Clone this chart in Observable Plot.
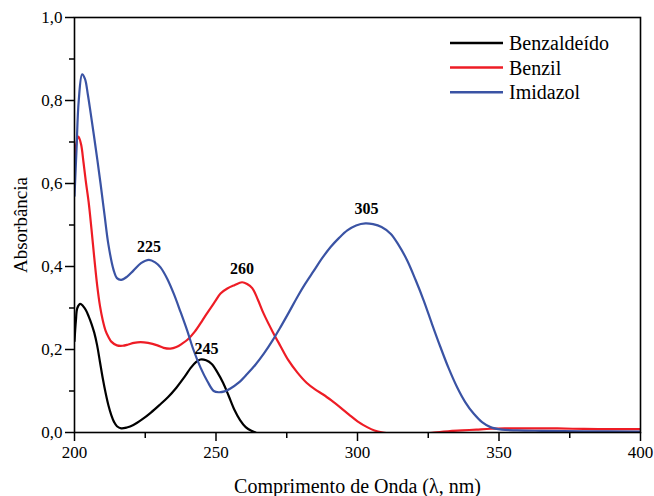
<!DOCTYPE html>
<html>
<head>
<meta charset="utf-8">
<script src="https://cdn.jsdelivr.net/npm/d3@7"></script>
<script src="https://cdn.jsdelivr.net/npm/@observablehq/plot@0.6"></script>
<style>
  html, body { margin: 0; padding: 0; background: #fff; }
</style>
</head>
<body>
<div id="chart"></div>
<script>
// ---- Data ----
const seriesNames = ["Benzaldeído", "Benzil", "Imidazol"];
const seriesColors = ["#000000", "#ee1c25", "#3a53a4"];

const benzaldeidoX = [200, 200.5, 201, 202, 203, 204, 205, 206, 207, 208, 209, 210, 211, 212, 213, 214, 215, 216.5, 218.5, 220.8, 224, 227, 230, 233, 236, 239, 241, 243, 244.5, 246.5, 248.5, 250.5, 252.5, 254.5, 256.5, 258.5, 260.5, 262.5, 264];
const benzaldeidoY = [0.22, 0.27, 0.30, 0.31, 0.305, 0.295, 0.28, 0.262, 0.24, 0.21, 0.17, 0.13, 0.095, 0.065, 0.042, 0.025, 0.015, 0.01, 0.012, 0.018, 0.032, 0.048, 0.066, 0.085, 0.108, 0.135, 0.155, 0.17, 0.176, 0.174, 0.165, 0.145, 0.12, 0.088, 0.055, 0.03, 0.013, 0.004, 0.0];

const benzilX = [200, 200.5, 201.4, 202.3, 203.2, 204, 205, 206, 207, 208, 209, 210, 211, 212, 213, 215, 217, 219, 221, 223.3, 226, 229.3, 231.5, 233.9, 236, 238, 240, 242.5, 245, 247, 249.5, 251.6, 254, 256.5, 259.2, 261, 262.8, 264.8, 266.8, 270, 272.8, 275.5, 278.7, 282, 285, 288, 291, 294, 297, 300, 303.4, 306, 309, 313, 318, 323, 327, 332, 337, 342, 347, 352, 360, 368, 376, 385, 392, 400];
const benzilY = [0.64, 0.69, 0.713, 0.695, 0.65, 0.605, 0.555, 0.49, 0.42, 0.355, 0.305, 0.27, 0.245, 0.23, 0.219, 0.21, 0.209, 0.212, 0.216, 0.218, 0.216, 0.21, 0.204, 0.202, 0.206, 0.214, 0.224, 0.243, 0.268, 0.289, 0.314, 0.335, 0.347, 0.355, 0.362, 0.358, 0.348, 0.32, 0.287, 0.243, 0.208, 0.175, 0.145, 0.12, 0.104, 0.091, 0.076, 0.06, 0.043, 0.027, 0.013, 0.005, 0.0, -0.004, -0.006, -0.004, 0.0, 0.003, 0.005, 0.007, 0.009, 0.01, 0.01, 0.01, 0.009, 0.008, 0.008, 0.008];

const imidazolX = [200, 200.7, 201.5, 202.7, 203.7, 204.7, 205.7, 207.5, 209.2, 210.6, 212, 213.8, 215, 216.5, 218.5, 220.8, 223.5, 226.3, 228.5, 230.4, 232.8, 235.1, 237.5, 239.8, 242, 244.5, 247, 249.2, 251, 253, 255.1, 258, 261, 264, 266.9, 270, 272.8, 275.8, 278.7, 281.5, 284.6, 287.5, 290.5, 293.5, 296.4, 299.5, 302.8, 305.5, 308.5, 311.7, 314.5, 317.6, 320.5, 323.4, 326.3, 329.3, 332.2, 335.2, 338, 341.1, 344, 347, 351, 356.4, 365, 380, 400];
const imidazolY = [0.57, 0.68, 0.80, 0.863, 0.852, 0.815, 0.77, 0.685, 0.60, 0.525, 0.452, 0.392, 0.372, 0.368, 0.375, 0.39, 0.408, 0.416, 0.41, 0.398, 0.37, 0.334, 0.29, 0.246, 0.2, 0.157, 0.123, 0.10, 0.097, 0.099, 0.106, 0.12, 0.141, 0.164, 0.19, 0.222, 0.254, 0.29, 0.326, 0.358, 0.39, 0.42, 0.447, 0.469, 0.487, 0.499, 0.504, 0.502, 0.495, 0.479, 0.452, 0.414, 0.368, 0.318, 0.262, 0.206, 0.155, 0.109, 0.074, 0.045, 0.025, 0.013, 0.007, 0.005, 0.004, 0.003, 0.002];

const peakLabels = ["225", "260", "245", "305"];
const peakX = [226.3, 259.2, 244.5, 302.8];
const peakY = [0.416, 0.362, 0.176, 0.504];

const xTicks = [200, 250, 300, 350, 400];
const xMinorTicks = [225, 275, 325, 375];
const yTicks = [0, 0.2, 0.4, 0.6, 0.8, 1.0];
const yMinorTicks = [0.1, 0.3, 0.5, 0.7, 0.9];

const xTitle = "Comprimento de Onda (λ, nm)";
const yTitle = "Absorbância";

// ---- Build tables ----
const seriesX = [benzaldeidoX, benzilX, imidazolX];
const seriesY = [benzaldeidoY, benzilY, imidazolY];
const rows = [];
seriesNames.forEach((name, i) => {
  seriesX[i].forEach((x, j) => rows.push({series: name, x, y: seriesY[i][j]}));
});
const peaks = peakLabels.map((label, i) => ({label, x: peakX[i], y: peakY[i]}));

const fmtComma = d => d.toFixed(1).replace(".", ",");
const FONT = "Liberation Serif, Times New Roman, serif";

const chart = Plot.plot({
  width: 654,
  height: 496,
  marginLeft: 74,
  marginRight: 14,
  marginTop: 17,
  marginBottom: 64,
  style: {fontFamily: FONT, fontSize: "17px", color: "#000", background: "#fff"},
  x: {domain: [200, 400]},
  y: {domain: [0, 1]},
  color: {domain: seriesNames, range: seriesColors},
  marks: [
    Plot.line(rows, {x: "x", y: "y", z: "series", stroke: "series", strokeWidth: 2.2, curve: "catmull-rom", clip: true}),
    Plot.text(peaks.slice(0, 2), {x: "x", y: "y", text: "label", dy: -13, fontWeight: "bold", fontSize: 16}),
    Plot.text(peaks.slice(2, 3), {x: "x", y: "y", text: "label", dy: -11, dx: 6, fontWeight: "bold", fontSize: 16}),
    Plot.text(peaks.slice(3, 4), {x: "x", y: "y", text: "label", dy: -14, dx: 1, fontWeight: "bold", fontSize: 16}),
    Plot.frame({stroke: "#000", strokeWidth: 1.6}),
    Plot.axisX({ticks: xTicks, tickSize: 9, tickPadding: 4, tickFormat: d => String(d), fontSize: 17, strokeWidth: 1.5, label: null}),
    Plot.axisX({ticks: xMinorTicks, tickSize: 6, tickFormat: null, text: null, strokeWidth: 1.5, label: null}),
    Plot.axisY({ticks: yTicks, tickSize: 9, tickPadding: 3, tickFormat: fmtComma, fontSize: 17, strokeWidth: 1.5, label: null}),
    Plot.axisY({ticks: yMinorTicks, tickSize: 5, tickFormat: null, text: null, strokeWidth: 1.5, label: null}),
    Plot.text([xTitle], {frameAnchor: "bottom", dy: 54, text: d => d, fontSize: 20, textAnchor: "middle", lineAnchor: "middle"}),
    Plot.text([yTitle], {frameAnchor: "left", dx: -54, text: d => d, fontSize: 19, rotate: -90, textAnchor: "middle", lineAnchor: "middle"})
  ]
});

// ---- Legend inside the plot (top right) ----
const svg = d3.select(chart);
const lg = svg.append("g").attr("font-family", FONT).attr("font-size", 20).attr("text-anchor", "start");
seriesNames.forEach((name, i) => {
  const y = 43 + i * 24.6;
  lg.append("line").attr("x1", 450).attr("x2", 503).attr("y1", y).attr("y2", y)
    .attr("stroke", seriesColors[i]).attr("stroke-width", 2.5);
  lg.append("text").attr("x", 509).attr("y", y).attr("dy", "0.35em").attr("fill", "#000").text(name);
});

document.getElementById("chart").append(chart);
</script>
</body>
</html>
